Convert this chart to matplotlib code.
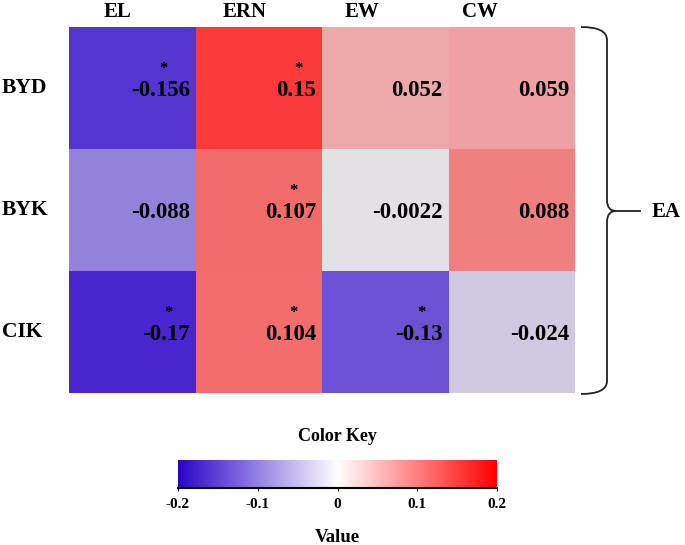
import numpy as np
import matplotlib
matplotlib.use("Agg")
from matplotlib import pyplot as plt
from matplotlib.colors import LinearSegmentedColormap
from matplotlib.path import Path
from matplotlib.patches import PathPatch

plt.rcParams['font.family'] = ['Liberation Serif', 'DejaVu Serif']
plt.rcParams['font.weight'] = 'bold'

# data
rows = ['BYD', 'BYK', 'CIK']
cols = ['EL', 'ERN', 'EW', 'CW']
values = np.array([[-0.156, 0.15, 0.052, 0.059],
                   [-0.088, 0.107, -0.0022, 0.088],
                   [-0.17, 0.104, -0.13, -0.024]])
cell_text = [['-0.156', '0.15', '0.052', '0.059'],
             ['-0.088', '0.107', '-0.0022', '0.088'],
             ['-0.17', '0.104', '-0.13', '-0.024']]
signif = [[1, 1, 0, 0],
          [0, 1, 0, 0],
          [1, 1, 1, 0]]
group = 'EA'
key_ticks = [-0.2, -0.1, 0, 0.1, 0.2]
key_labels = ['-0.2', '-0.1', '0', '0.1', '0.2']

# colours
blue, red = '#2c04c8', '#ff0000'
cmap_key = LinearSegmentedColormap.from_list('key', [blue, '#ffffff', red])
cmap_cell = LinearSegmentedColormap.from_list('cell', [blue, '#e6e4e6', red])

W, H = 685, 545
fig = plt.figure(figsize=(W / 100, H / 100), dpi=100)

# heatmap
ax = fig.add_axes([69 / W, 1 - 393 / H, 506 / W, 366 / H])
ax.pcolormesh(values, cmap=cmap_cell, vmin=-0.2, vmax=0.2)
ax.set_xlim(0, len(cols))
ax.set_ylim(len(rows), 0)
ax.axis('off')

for i in range(len(rows)):
    for j in range(len(cols)):
        t = ax.text(j + 0.955, i + 0.52, cell_text[i][j], ha='right', va='center',
                    fontsize=16.5, fontweight='bold', color='black')
        if signif[i][j]:
            ax.annotate('*', xy=(0.55, 1.0), xycoords=t, xytext=(0, 2),
                        textcoords='offset points', ha='center', va='bottom',
                        fontsize=12, fontweight='bold')

col_shift = [0.12, 0.11, 0.18, 0.25]
for j, c in enumerate(cols):
    ax.text(j + 0.5 - col_shift[j], -0.12, c, ha='center', va='center',
            fontsize=15, fontweight='bold')
for i, r in enumerate(rows):
    ax.text(-67 / 126.5, i + 0.5, r, ha='left', va='center',
            fontsize=15.5, fontweight='bold')

# brace for the group
ov = fig.add_axes([0, 0, 1, 1])
ov.set_xlim(0, W)
ov.set_ylim(H, 0)
ov.axis('off')
verts = [(581, 27), (607, 27), (607, 40),
         (607, 200), (607, 211), (616, 211),
         (607, 211), (607, 222),
         (607, 381), (607, 394), (581, 394)]
codes = [Path.MOVETO, Path.CURVE3, Path.CURVE3,
         Path.LINETO, Path.CURVE3, Path.CURVE3,
         Path.CURVE3, Path.CURVE3,
         Path.LINETO, Path.CURVE3, Path.CURVE3]
ov.add_patch(PathPatch(Path(verts, codes), fill=False, lw=1.3, ec='#222222'))
ov.plot([612, 640], [211, 211], color='#222222', lw=1.3)
ov.text(652, 212, group, ha='left', va='center', fontsize=15, fontweight='bold')

# colour key
kax = fig.add_axes([178 / W, 1 - 488 / H, 319 / W, 28 / H])
grad = np.linspace(-0.2, 0.2, 256).reshape(1, -1)
kax.imshow(grad, cmap=cmap_key, vmin=-0.2, vmax=0.2, aspect='auto',
           extent=[-0.2, 0.2, 0, 1])
kax.set_xlim(-0.2, 0.2)
kax.set_yticks([])
for s in ['top', 'left', 'right']:
    kax.spines[s].set_visible(False)
kax.spines['bottom'].set_linewidth(1.5)
kax.set_xticks(key_ticks)
kax.set_xticklabels(key_labels, fontsize=11, fontweight='bold')
kax.tick_params(axis='x', length=2, width=0.8, pad=5)
kax.set_title('Color Key', fontsize=13, fontweight='bold', pad=14)
kax.set_xlabel('Value', fontsize=13.5, fontweight='bold', labelpad=13)

fig.savefig('out.png', dpi=100)
